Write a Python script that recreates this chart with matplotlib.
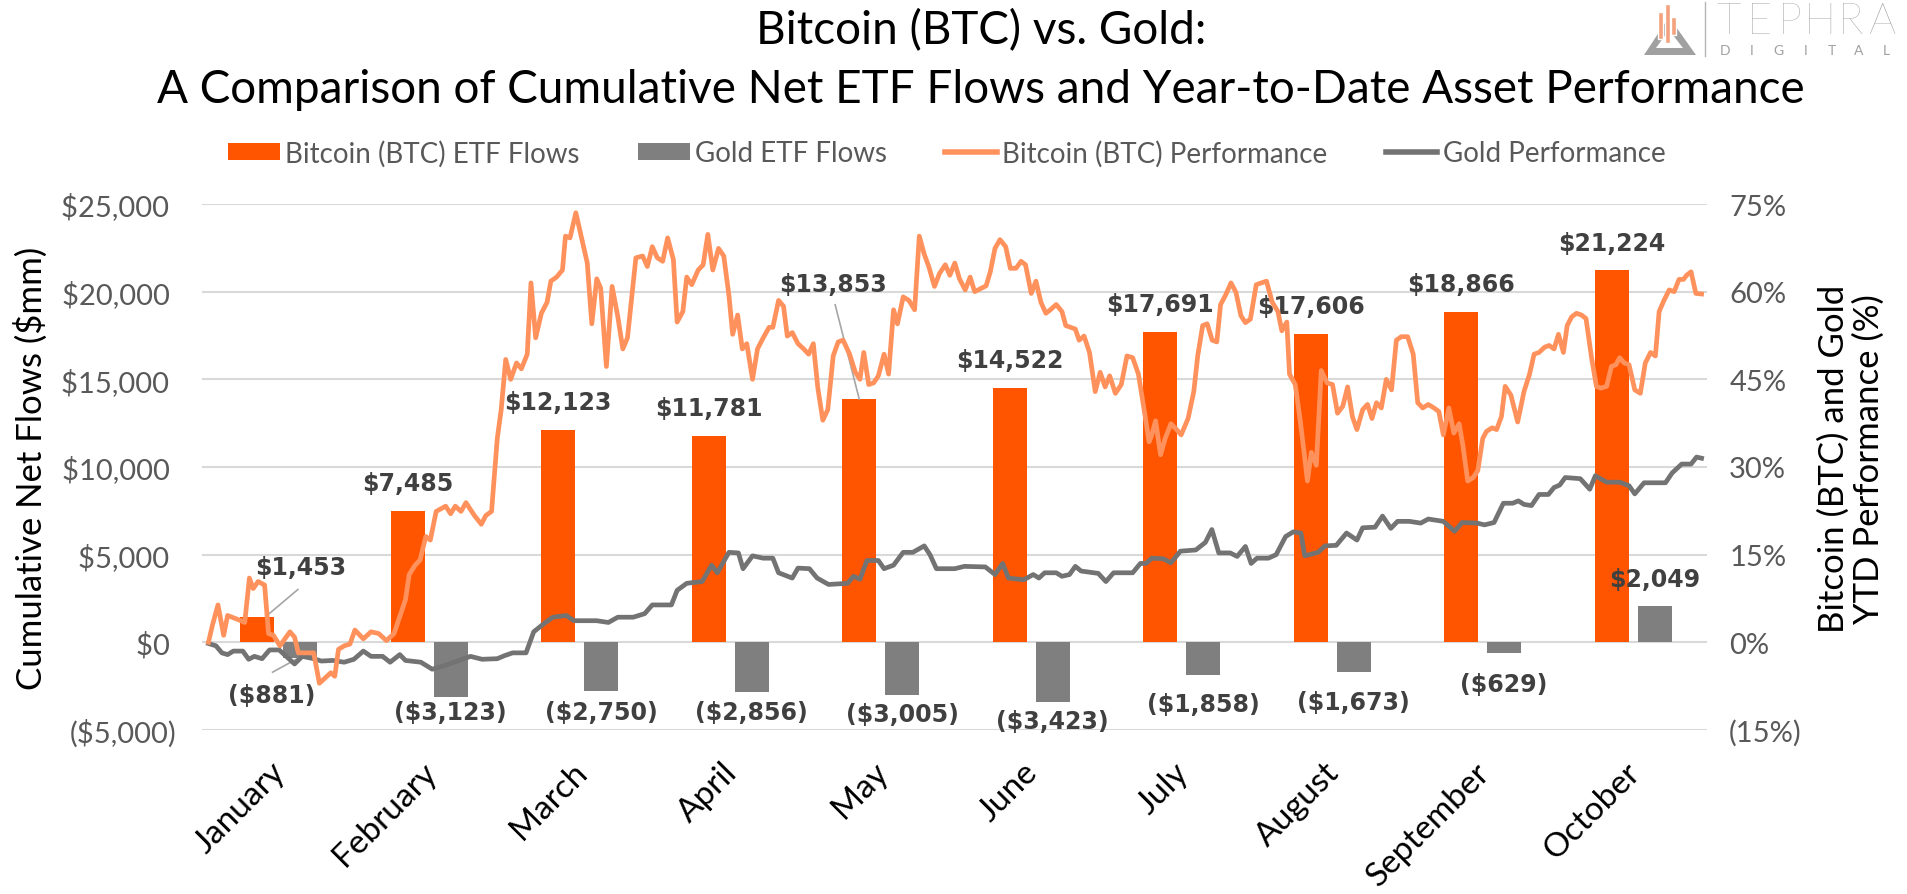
import matplotlib
matplotlib.use("Agg")
import matplotlib.pyplot as plt
from matplotlib.lines import Line2D
from matplotlib.patches import Polygon, Rectangle, Patch
from matplotlib.ticker import FuncFormatter, FixedLocator
import matplotlib.transforms as mtrans

# ---------------- data ----------------
months = ["January", "February", "March", "April", "May", "June",
          "July", "August", "September", "October"]
btc_flows = [1453, 7485, 12123, 11781, 13853, 14522, 17691, 17606, 18866, 21224]
gold_flows = [-881, -3123, -2750, -2856, -3005, -3423, -1858, -1673, -629, 2049]

# time in months elapsed since Jan 1 (2024) and YTD performance (%)
btc_t = [0.043, 0.068, 0.106, 0.144, 0.170, 0.259, 0.284, 0.315, 0.340, 0.373, 0.416, 0.442,
         0.475, 0.518, 0.584, 0.615, 0.640, 0.666, 0.742, 0.780, 0.818, 0.856, 0.882, 0.907,
         0.945, 0.983, 1.016, 1.072, 1.123, 1.174, 1.225, 1.276, 1.352, 1.377, 1.416, 1.449,
         1.487, 1.517, 1.556, 1.619, 1.652, 1.683, 1.721, 1.754, 1.810, 1.856, 1.886, 1.924,
         1.962, 1.988, 2.018, 2.051, 2.090, 2.122, 2.161, 2.186, 2.217, 2.255, 2.293, 2.318,
         2.356, 2.395, 2.415, 2.445, 2.484, 2.522, 2.560, 2.590, 2.623, 2.649, 2.687, 2.725,
         2.763, 2.796, 2.827, 2.883, 2.928, 2.959, 2.992, 3.025, 3.061, 3.094, 3.132, 3.157,
         3.195, 3.221, 3.254, 3.297, 3.330, 3.361, 3.394, 3.432, 3.467, 3.501, 3.526, 3.559,
         3.590, 3.620, 3.658, 3.691, 3.729, 3.768, 3.793, 3.831, 3.864, 3.889, 3.922, 3.960,
         3.998, 4.031, 4.062, 4.092, 4.125, 4.158, 4.194, 4.227, 4.260, 4.303, 4.341, 4.372,
         4.397, 4.430, 4.463, 4.494, 4.532, 4.562, 4.595, 4.621, 4.659, 4.697, 4.735, 4.766,
         4.799, 4.829, 4.867, 4.900, 4.939, 4.969, 5.002, 5.033, 5.071, 5.104, 5.134, 5.180,
         5.210, 5.238, 5.269, 5.302, 5.340, 5.371, 5.409, 5.442, 5.472, 5.510, 5.541, 5.574,
         5.607, 5.637, 5.676, 5.714, 5.739, 5.770, 5.803, 5.828, 5.861, 5.897, 5.935, 5.968,
         6.001, 6.031, 6.069, 6.108, 6.146, 6.184, 6.222, 6.260, 6.293, 6.311, 6.336, 6.369,
         6.400, 6.438, 6.476, 6.506, 6.552, 6.590, 6.616, 6.649, 6.679, 6.712, 6.743, 6.768,
         6.801, 6.837, 6.870, 6.903, 6.933, 6.966, 7.005, 7.040, 7.073, 7.111, 7.149, 7.175,
         7.208, 7.226, 7.264, 7.297, 7.320, 7.345, 7.371, 7.404, 7.437, 7.475, 7.512, 7.545,
         7.580, 7.612, 7.644, 7.674, 7.712, 7.744, 7.774, 7.804, 7.836, 7.869, 7.904, 7.936,
         7.969, 8.011, 8.048, 8.078, 8.111, 8.148, 8.186, 8.218, 8.248, 8.285, 8.318, 8.353,
         8.378, 8.410, 8.447, 8.477, 8.510, 8.535, 8.572, 8.602, 8.634, 8.659, 8.697, 8.742,
         8.784, 8.821, 8.851, 8.884, 8.921, 8.951, 8.984, 9.013, 9.046, 9.071, 9.101, 9.133,
         9.166, 9.196, 9.233, 9.265, 9.295, 9.333, 9.365, 9.395, 9.420, 9.450, 9.482, 9.520,
         9.557, 9.590, 9.625, 9.657, 9.682, 9.714, 9.749, 9.782, 9.814, 9.844, 9.864, 9.894,
         9.926, 9.964]
btc_perf = [0.0, 2.8, 6.4, 1.2, 4.6, 3.7, 3.4, 11.0, 9.2, 10.4, 9.8, 1.5,
            1.2, -0.6, 1.8, 0.9, -1.8, -1.8, -1.8, -7.0, -6.1, -5.2, -5.8, -1.2,
            -0.6, -0.3, 2.1, 0.6, 1.8, 1.5, 0.3, 1.5, 7.3, 11.6, 13.2, 14.1,
            18.1, 17.5, 22.4, 23.3, 22.0, 23.3, 22.4, 23.9, 21.7, 20.2, 21.7, 22.4,
            34.9, 39.8, 48.4, 45.0, 47.8, 46.8, 49.3, 61.5, 52.1, 56.3, 58.2, 61.8,
            62.5, 63.7, 69.5, 69.2, 73.5, 69.2, 64.9, 54.5, 62.2, 60.6, 47.2, 60.9,
            55.7, 50.2, 52.1, 65.8, 66.1, 64.3, 67.7, 65.8, 65.2, 69.2, 65.5, 54.8,
            56.6, 62.5, 61.2, 63.7, 64.6, 69.8, 63.7, 67.4, 66.1, 59.4, 52.7, 56.0,
            50.2, 51.1, 45.0, 50.2, 52.1, 53.9, 53.9, 58.5, 57.5, 52.4, 53.0, 51.1,
            50.2, 49.3, 51.1, 43.5, 38.0, 39.8, 49.0, 51.4, 51.7, 49.3, 46.2, 45.0,
            49.6, 44.1, 44.4, 45.6, 49.3, 45.9, 56.9, 54.5, 59.1, 58.5, 56.9, 69.5,
            66.4, 64.3, 60.9, 63.1, 64.6, 62.8, 64.9, 62.2, 60.3, 62.5, 60.0, 60.6,
            61.0, 63.4, 67.4, 68.9, 67.7, 64.0, 64.0, 65.2, 64.6, 59.7, 61.8, 58.2,
            56.3, 56.9, 57.8, 56.6, 54.2, 53.9, 53.6, 51.7, 52.4, 49.6, 42.9, 46.2,
            43.7, 45.6, 42.6, 44.1, 49.0, 48.7, 45.9, 39.8, 34.3, 35.5, 37.9, 32.1,
            34.9, 37.4, 36.4, 35.5, 38.3, 42.9, 49.0, 54.2, 54.5, 51.7, 51.4, 57.8,
            59.4, 61.5, 59.9, 55.9, 54.7, 55.3, 61.2, 61.5, 61.8, 58.2, 56.6, 53.3,
            54.8, 45.9, 44.1, 38.0, 33.1, 27.6, 32.5, 30.3, 46.5, 44.4, 44.1, 39.2,
            40.4, 43.7, 38.6, 36.4, 39.8, 40.7, 38.3, 41.0, 40.1, 45.0, 43.2, 51.7,
            52.3, 52.3, 49.3, 41.0, 40.1, 40.7, 40.1, 39.5, 35.5, 40.1, 35.8, 37.4,
            33.7, 27.6, 28.2, 29.4, 34.9, 36.1, 36.7, 36.4, 38.6, 43.8, 42.3, 37.7,
            42.9, 45.9, 49.3, 49.6, 50.5, 50.8, 50.2, 52.7, 49.6, 54.2, 55.7, 56.3,
            56.0, 55.4, 48.7, 43.8, 43.5, 43.8, 47.2, 47.5, 48.7, 47.8, 47.5, 43.2,
            42.6, 47.8, 49.6, 49.0, 56.6, 58.5, 60.3, 60.0, 62.1, 62.1, 62.8, 63.4,
            59.7, 59.6]

gold_t = [0.043, 0.093, 0.132, 0.170, 0.208, 0.271, 0.310, 0.348, 0.399, 0.449, 0.513, 0.577,
          0.615, 0.666, 0.742, 0.793, 0.869, 0.945, 1.009, 1.072, 1.123, 1.200, 1.250, 1.314,
          1.352, 1.454, 1.530, 1.632, 1.784, 1.861, 1.962, 2.008, 2.064, 2.153, 2.204, 2.267,
          2.331, 2.420, 2.471, 2.547, 2.623, 2.700, 2.763, 2.865, 2.941, 2.992, 3.119, 3.157,
          3.221, 3.323, 3.386, 3.424, 3.501, 3.564, 3.595, 3.658, 3.729, 3.793, 3.831, 3.922,
          3.960, 4.036, 4.087, 4.163, 4.290, 4.329, 4.372, 4.418, 4.494, 4.532, 4.595, 4.659,
          4.723, 4.799, 4.837, 4.880, 5.002, 5.066, 5.205, 5.269, 5.320, 5.358, 5.460, 5.523,
          5.561, 5.599, 5.676, 5.714, 5.764, 5.803, 5.841, 5.955, 6.006, 6.057, 6.184, 6.235,
          6.273, 6.311, 6.387, 6.438, 6.501, 6.603, 6.667, 6.710, 6.756, 6.832, 6.878, 6.933,
          6.971, 7.010, 7.086, 7.137, 7.200, 7.251, 7.302, 7.327, 7.416, 7.462, 7.537, 7.605,
          7.674, 7.712, 7.794, 7.844, 7.899, 7.944, 8.023, 8.098, 8.148, 8.248, 8.323, 8.373,
          8.472, 8.522, 8.585, 8.647, 8.709, 8.747, 8.784, 8.834, 8.884, 8.946, 8.984, 9.021,
          9.058, 9.158, 9.221, 9.258, 9.333, 9.420, 9.482, 9.520, 9.582, 9.682, 9.724, 9.769,
          9.832, 9.894, 9.931, 9.964]
gold_perf = [-0.2, -0.6, -1.8, -2.1, -1.5, -1.5, -2.9, -2.4, -2.8, -1.3, -1.3, -2.8,
             -3.7, -2.4, -2.8, -3.2, -3.1, -3.4, -2.9, -1.5, -2.4, -2.4, -3.4, -2.1,
             -3.1, -3.4, -4.6, -3.8, -2.4, -2.9, -2.8, -2.3, -1.8, -1.8, 1.8, 3.1,
             4.3, 4.6, 3.7, 3.7, 3.7, 3.4, 4.3, 4.3, 4.9, 6.4, 6.4, 8.9,
             10.1, 10.4, 13.2, 11.9, 15.4, 15.3, 12.6, 14.8, 14.4, 14.4, 11.9, 11.0,
             12.7, 12.6, 11.0, 9.9, 10.1, 11.3, 10.8, 14.0, 14.0, 12.6, 13.2, 15.4,
             15.4, 16.5, 15.0, 12.6, 12.6, 13.0, 12.9, 11.6, 13.5, 11.0, 10.7, 11.6,
             11.0, 11.9, 11.9, 11.3, 11.6, 13.0, 12.2, 11.8, 10.4, 11.9, 11.9, 13.5,
             13.5, 14.4, 14.3, 13.6, 15.6, 15.8, 17.1, 19.3, 15.3, 15.3, 14.7, 16.4,
             13.5, 14.4, 14.4, 15.0, 18.1, 18.9, 18.7, 14.8, 15.4, 16.5, 16.6, 18.7,
             17.5, 19.6, 19.7, 21.6, 19.5, 20.7, 20.7, 20.4, 21.1, 20.7, 19.0, 20.5,
             20.4, 20.1, 20.5, 23.8, 23.8, 24.2, 23.6, 23.4, 25.3, 25.3, 26.5, 26.9,
             28.2, 28.0, 26.2, 28.5, 27.4, 27.4, 26.8, 25.4, 27.3, 27.3, 27.3, 29.0,
             30.5, 30.5, 31.7, 31.5]

left_ticks = [-5000, 0, 5000, 10000, 15000, 20000, 25000]
right_ticks = [-15, 0, 15, 30, 45, 60, 75]

# ---------------- style ----------------
ORANGE_BAR = "#FF5500"
GRAY_BAR = "#7F7F7F"
ORANGE_LINE = "#FF925C"
GRAY_LINE = "#737373"
TXT_GRAY = "#595959"
LBL = "#404040"
GRID = "#D9D9D9"
LEADER = "#A6A6A6"
plt.rcParams["font.family"] = ["Lato", "DejaVu Sans"]

W, H = 1908, 895
fig = plt.figure(figsize=(W / 100, H / 100), dpi=100)
fig.patch.set_facecolor("white")


def fx(px):
    return px / W


def fy(py):
    return 1 - py / H


AX_L, AX_R, AX_T, AX_B = 202, 1707, 205, 731
rect = [fx(AX_L), fy(AX_B), fx(AX_R) - fx(AX_L), fy(AX_T) - fy(AX_B)]
ax = fig.add_axes(rect)
axl = fig.add_axes(rect)
axl.patch.set_visible(False)

# ----- bars -----
n = len(months)
xs = list(range(n))
bw = 0.225
off_btc, off_gold = -0.133, 0.152
ax.bar([x + off_btc for x in xs], btc_flows, width=bw, color=ORANGE_BAR, zorder=2)
ax.bar([x + off_gold for x in xs], gold_flows, width=bw, color=GRAY_BAR, zorder=2)
ax.set_xlim(-0.5, n - 0.5)
ax.set_ylim(-5000, 25000)
ax.yaxis.set_major_locator(FixedLocator(left_ticks))
ax.yaxis.set_major_formatter(FuncFormatter(
    lambda v, p: f"${v:,.0f} " if v >= 0 else f"(${-v:,.0f})"))
ax.grid(axis="y", color=GRID, lw=1.5)
ax.set_axisbelow(True)
for s in ax.spines.values():
    s.set_visible(False)
ax.tick_params(axis="y", length=0, pad=18, labelsize=21, labelcolor=TXT_GRAY)
ax.tick_params(axis="x", length=0, pad=19, labelsize=24, labelcolor="black")
ax.set_xticks(xs)
ax.set_xticklabels(months, rotation=45, ha="right", va="top", rotation_mode="anchor")
shift = mtrans.ScaledTranslation(-7 / 100, 0, fig.dpi_scale_trans)
for lab in ax.get_xticklabels():
    lab.set_transform(lab.get_transform() + shift)
ax.set_ylabel("Cumulative Net Flows ($mm)", fontsize=25, color="black")
ax.yaxis.label.set_va("center")
ax.yaxis.label.set_ha("center")
ax.yaxis.set_label_coords((31 - AX_L) / (AX_R - AX_L), (AX_B - 468) / (AX_B - AX_T))

# ----- lines -----
axl.plot(btc_t, btc_perf, color=ORANGE_LINE, lw=3.4, solid_joinstyle="round", zorder=4)
axl.plot(gold_t, gold_perf, color=GRAY_LINE, lw=3.4, solid_joinstyle="round", zorder=3)
axl.set_xlim(0, 10)
axl.set_ylim(-15, 75)
axl.xaxis.set_visible(False)
axl.yaxis.tick_right()
axl.yaxis.set_label_position("right")
axl.yaxis.set_major_locator(FixedLocator(right_ticks))
axl.yaxis.set_major_formatter(FuncFormatter(
    lambda v, p: f"{v:.0f}%" if v >= 0 else f"({-v:.0f}%)"))
axl.tick_params(axis="y", length=0, pad=16, labelsize=21, labelcolor=TXT_GRAY)
for s in axl.spines.values():
    s.set_visible(False)
axl.set_ylabel("Bitcoin (BTC) and Gold\nYTD Performance (%)", fontsize=25,
               color="black", rotation=90, linespacing=1.12)
axl.yaxis.label.set_va("center")
axl.yaxis.label.set_ha("center")
axl.yaxis.set_label_coords((1851 - AX_L) / (AX_R - AX_L), (AX_B - 459) / (AX_B - AX_T))

# ----- data labels -----
lab_kw = dict(fontsize=17, fontweight="bold", color=LBL, family="DejaVu Sans",
              ha="center", va="center", zorder=6)
above = 1580
for i, v in enumerate(btc_flows):
    x = i + off_btc
    if i == 0:
        ax.text(x + 0.286, v + 2820, f"${v:,}", **lab_kw)
        ax.plot([x + 0.06, x + 0.27], [v + 40, v + 1560], color=LEADER, lw=1.2, zorder=5)
    elif i == 4:
        ax.text(x - 0.173, v + 6607, f"${v:,}", **lab_kw)
        ax.plot([x - 0.16, x], [v + 5400, v + 20], color=LEADER, lw=1.2, zorder=5)
    else:
        ax.text(x, v + above, f"${v:,}", **lab_kw)

gold_drop = [None, 857, 1230, 1124, 1078, 1042, 1632, 1707, 1721, None]
for i, v in enumerate(gold_flows):
    x = i + off_gold
    txt = f"${v:,}" if v >= 0 else f"(${-v:,})"
    if v >= 0:
        ax.text(x, v + above, txt, **lab_kw)
    elif i == 0:
        ax.text(x - 0.19, v - 2130, txt, **lab_kw)
        ax.plot([x - 0.183, x - 0.01], [v - 820, v - 10], color=LEADER, lw=1.2, zorder=5)
    else:
        ax.text(x, v - gold_drop[i], txt, **lab_kw)

# ----- titles -----
fig.text(fx(981), fy(44.5), "Bitcoin (BTC) vs. Gold:", ha="center", va="baseline",
         fontsize=33, color="black")
fig.text(fx(981), fy(103), "A Comparison of Cumulative Net ETF Flows and Year-to-Date Asset Performance",
         ha="center", va="baseline", fontsize=33, color="black")

# ----- legend -----
handles = [
    Patch(facecolor=ORANGE_BAR, edgecolor="none"),
    Patch(facecolor=GRAY_BAR, edgecolor="none"),
    Line2D([], [], color=ORANGE_LINE, lw=4.0),
    Line2D([], [], color=GRAY_LINE, lw=4.0),
]
labels = ["Bitcoin (BTC) ETF Flows", "Gold ETF Flows",
          "Bitcoin (BTC) Performance", "Gold Performance"]
fig.legend(handles, labels, loc="center", bbox_to_anchor=(fx(947), fy(154)), ncol=4,
           frameon=False, fontsize=20, labelcolor=TXT_GRAY, handlelength=1.85,
           handleheight=0.55, handletextpad=0.2, columnspacing=2.1, borderpad=0)

# ----- logo -----
lg = "#A0A0A0"
fig.patches.append(Polygon([(fx(1644), fy(56)), (fx(1696), fy(56)), (fx(1669), fy(18))],
                           closed=True, facecolor=lg, edgecolor="none",
                           transform=fig.transFigure, figure=fig))
fig.patches.append(Polygon([(fx(1656), fy(49)), (fx(1683), fy(49)), (fx(1669), fy(31))],
                           closed=True, facecolor="white", edgecolor="none",
                           transform=fig.transFigure, figure=fig))
for (x0, y0, y1) in [(1659, 13, 40), (1666, 5, 44), (1672, 18, 36)]:
    fig.patches.append(Rectangle((fx(x0 - 1), fy(y1)), fx(5), fy(y0) - fy(y1),
                                 facecolor="#F4A27E", edgecolor="white", lw=1.0,
                                 transform=fig.transFigure, figure=fig))
fig.add_artist(Line2D([fx(1705), fx(1705)], [fy(3), fy(57)], color="#B5B5B5", lw=1.0,
                      transform=fig.transFigure))
for k, ch in enumerate("TEPHRA"):
    fig.text(fx(1729 + k * 30.5), fy(34), ch, ha="center", va="baseline", fontsize=31,
             fontweight="light", color=lg)
for k, ch in enumerate("DIGITAL"):
    fig.text(fx(1725 + k * 26.8), fy(55), ch, ha="center", va="baseline", fontsize=10,
             color=lg)

fig.savefig("out.png", dpi=100, facecolor="white")
